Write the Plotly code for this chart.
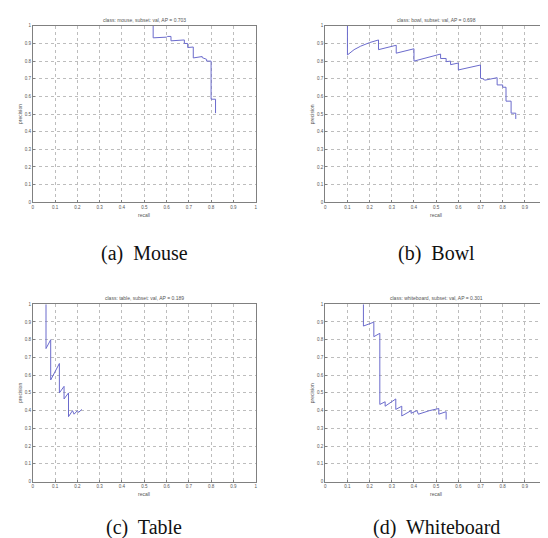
import plotly.graph_objects as go

W, H = 548, 538

tick_vals = [0, 0.1, 0.2, 0.3, 0.4, 0.5, 0.6, 0.7, 0.8, 0.9, 1]
tick_text = ["0", "0.1", "0.2", "0.3", "0.4", "0.5", "0.6", "0.7", "0.8", "0.9", "1"]

titles = [
    "class: mouse, subset: val, AP = 0.703",
    "class: bowl, subset: val, AP = 0.698",
    "class: table, subset: val, AP = 0.189",
    "class: whiteboard, subset: val, AP = 0.301",
]
captions = ["(a)  Mouse", "(b)  Bowl", "(c)  Table", "(d)  Whiteboard"]

mouse_recall = [0.54, 0.54, 0.60, 0.605, 0.62, 0.62, 0.68, 0.68, 0.695, 0.695,
                0.72, 0.72, 0.76, 0.76, 0.78, 0.78, 0.80, 0.80, 0.82, 0.82]
mouse_precision = [1.0, 0.932, 0.936, 0.94, 0.94, 0.915, 0.92, 0.90, 0.90, 0.877,
                   0.88, 0.818, 0.826, 0.82, 0.81, 0.80, 0.80, 0.584, 0.584, 0.505]

bowl_recall = [0.10, 0.10, 0.13, 0.16, 0.20, 0.24, 0.24, 0.32, 0.32, 0.40, 0.40,
               0.52, 0.52, 0.545, 0.545, 0.565, 0.565, 0.60, 0.60, 0.70, 0.70,
               0.71, 0.72, 0.775, 0.775, 0.80, 0.80, 0.815, 0.815, 0.838, 0.838,
               0.859, 0.859]
bowl_precision = [1.0, 0.835, 0.865, 0.885, 0.905, 0.92, 0.865, 0.89, 0.845, 0.87, 0.80,
                  0.84, 0.815, 0.815, 0.797, 0.80, 0.78, 0.789, 0.75, 0.778, 0.703,
                  0.70, 0.692, 0.706, 0.665, 0.665, 0.652, 0.652, 0.573, 0.573, 0.505,
                  0.505, 0.472]

table_recall = [0.059, 0.059, 0.08, 0.08, 0.119, 0.119, 0.14, 0.14, 0.16, 0.16,
                0.178, 0.185, 0.20, 0.205, 0.22]
table_precision = [1.0, 0.75, 0.80, 0.573, 0.666, 0.50, 0.537, 0.466, 0.50, 0.366,
                   0.40, 0.38, 0.40, 0.39, 0.407]

wb_recall = [0.172, 0.172, 0.219, 0.219, 0.246, 0.246, 0.27, 0.27, 0.318, 0.318,
             0.345, 0.345, 0.387, 0.387, 0.413, 0.42, 0.47, 0.512, 0.512, 0.545, 0.545]
wb_precision = [1.0, 0.877, 0.899, 0.817, 0.836, 0.435, 0.45, 0.425, 0.466, 0.407,
                0.425, 0.37, 0.40, 0.385, 0.40, 0.38, 0.40, 0.412, 0.38, 0.394, 0.35]

series = [(mouse_recall, mouse_precision), (bowl_recall, bowl_precision),
          (table_recall, table_precision), (wb_recall, wb_precision)]

# plot boxes in pixels: (left, right, top, bottom)
boxes = [(24, 248, 16, 194), (318, 541, 16, 194),
         (24, 248, 297, 476), (318, 541, 297, 476)]
# bottom edge (px) of each caption box
caption_bottom = [259, 259, 536, 536]

LINE = "#6b6bcc"
FRAME = "#808080"
GRID = "#bdbdbd"
TXT = "#555555"

fig = go.Figure()
layout = dict(width=W, height=H, margin=dict(l=0, r=0, t=0, b=0),
              paper_bgcolor="white", plot_bgcolor="white", showlegend=False)
annotations = []

for i, ((xs, ys), (l, r, t, b)) in enumerate(zip(series, boxes)):
    n = "" if i == 0 else str(i + 1)
    fig.add_trace(go.Scatter(x=xs, y=ys, mode="lines",
                             line=dict(color=LINE, width=1),
                             xaxis="x" + n, yaxis="y" + n, hoverinfo="skip"))
    common = dict(range=[0, 1], tickvals=tick_vals, ticktext=tick_text,
                  showgrid=True, gridcolor=GRID, griddash="dot", gridwidth=1,
                  showline=True, linecolor=FRAME, linewidth=1, mirror=True,
                  ticks="inside", ticklen=2, tickcolor=FRAME, zeroline=False,
                  tickfont=dict(family="Liberation Sans", size=4.5, color=TXT),
                  fixedrange=True)
    layout["xaxis" + n] = dict(domain=[l / W, r / W], anchor="y" + n, **common)
    layout["yaxis" + n] = dict(domain=[1 - b / H, 1 - t / H], anchor="x" + n, **common)
    cx = (l + r) / 2 / W
    annotations.append(dict(text=titles[i], x=cx, y=1 - (t - 6) / H, xref="paper", yref="paper",
                            showarrow=False, xanchor="center", yanchor="middle",
                            font=dict(family="Liberation Sans", size=5, color=TXT)))
    annotations.append(dict(text="recall", x=cx, y=1 - (b + 13) / H, xref="paper", yref="paper",
                            showarrow=False, xanchor="center", yanchor="middle",
                            font=dict(family="Liberation Sans", size=5, color=TXT)))
    annotations.append(dict(text="precision", x=(l - 13) / W, y=1 - (t + b) / 2 / H,
                            xref="paper", yref="paper", textangle=-90,
                            showarrow=False, xanchor="center", yanchor="middle",
                            font=dict(family="Liberation Sans", size=5, color=TXT)))
    annotations.append(dict(text=captions[i], x=cx, y=1 - caption_bottom[i] / H,
                            xref="paper", yref="paper",
                            showarrow=False, xanchor="center", yanchor="bottom",
                            font=dict(family="Liberation Serif", size=20, color="#111111")))

layout["annotations"] = annotations
fig.update_layout(**layout)
fig.write_html("out.html")
